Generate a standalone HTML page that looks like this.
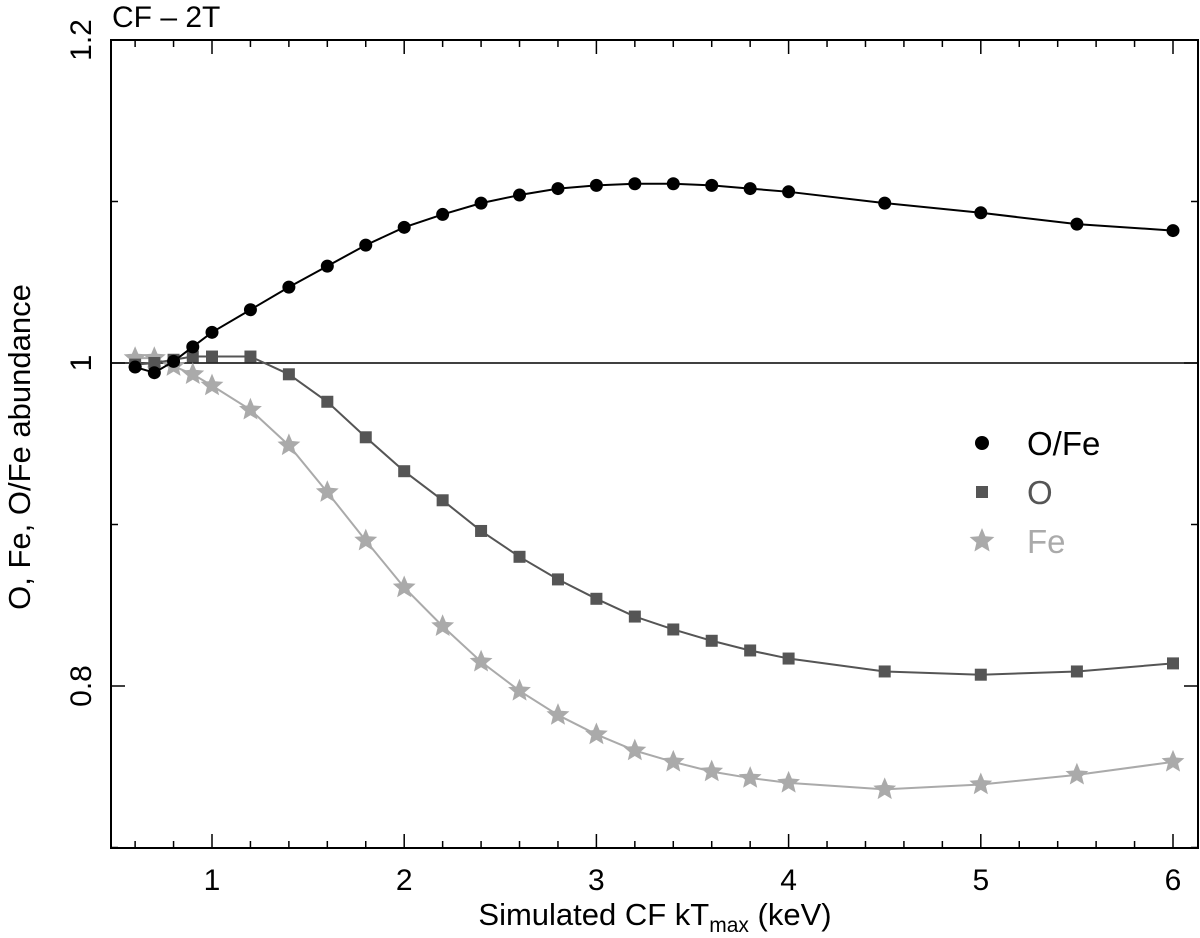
<!DOCTYPE html>
<html><head><meta charset="utf-8"><style>
body{margin:0;background:#fff;}
svg text{font-family:"Liberation Sans",sans-serif;}
</style></head><body>
<svg id="chart" width="1200" height="933" xmlns="http://www.w3.org/2000/svg"></svg>
<script>
const xVals=[0.6,0.7,0.8,0.9,1.0,1.2,1.4,1.6,1.8,2.0,2.2,2.4,2.6,2.8,3.0,3.2,3.4,3.6,3.8,4.0,4.5,5,5.5,6];
const ofeVals=[0.9975,0.994,1.001,1.01,1.019,1.033,1.047,1.06,1.073,1.084,1.092,1.099,1.104,1.108,1.11,1.111,1.111,1.11,1.108,1.106,1.099,1.093,1.086,1.082];
const oVals=[0.999,1.0,1.002,1.004,1.004,1.004,0.993,0.976,0.954,0.933,0.915,0.896,0.88,0.866,0.854,0.843,0.835,0.828,0.822,0.817,0.809,0.807,0.809,0.814];
const feVals=[1.003,1.003,0.998,0.993,0.986,0.971,0.949,0.92,0.89,0.861,0.837,0.815,0.797,0.782,0.77,0.76,0.753,0.747,0.743,0.74,0.736,0.739,0.745,0.753];
const xTickLabels=[1,2,3,4,5,6];
const yTickLabels=[0.8,1,1.2];

const svg=document.getElementById('chart');
const NS='http://www.w3.org/2000/svg';
const L=111,R=1198,T=40,B=848;
const X=v=>212+(v-1)*192.2;
const Y=v=>363-(v-1)*1615;
function mk(tag,attrs,parent){const e=document.createElementNS(NS,tag);for(const k in attrs)e.setAttribute(k,attrs[k]);(parent||svg).appendChild(e);return e;}

const frame=mk('rect',{x:L,y:T,width:R-L,height:B-T,fill:'none',stroke:'#000','stroke-width':2});


const ref=mk('line',{x1:L,x2:R,y1:Y(1),y2:Y(1),stroke:'#000','stroke-width':1.5});



for(let i=3;i<=30;i++){const v=i*0.2;const x=X(v);if(x<L||x>R)continue;const major=Math.abs(v-Math.round(v))<1e-6;const len=major?14:7;
const t1=mk('line',{x1:x,x2:x,y1:B,y2:B-len,stroke:'#000','stroke-width':1.5});


const t2=mk('line',{x1:x,x2:x,y1:T,y2:T+len,stroke:'#000','stroke-width':1.5});

}
xTickLabels.forEach(v=>{const t=mk('text',{x:X(v),y:890,'font-size':30,'text-anchor':'middle'});t.textContent=v;

});
for(let i=7;i<=12;i++){const v=i/10;const y=Y(v);const major=i%2===0;const len=major?14:7;
const a=mk('line',{x1:L,x2:L+len,y1:y,y2:y,stroke:'#000','stroke-width':1.5});


const b=mk('line',{x1:R,x2:R-len,y1:y,y2:y,stroke:'#000','stroke-width':1.5});

}
yTickLabels.forEach(v=>{const y=Y(v);const t=mk('text',{x:0,y:0,'font-size':30,'text-anchor':'middle',transform:`translate(91,${y}) rotate(-90)`});t.textContent=v;

});

const tt=mk('text',{x:112,y:27,'font-size':30});tt.textContent='CF – 2T';


const xt=mk('text',{x:655,y:925,'font-size':31,'text-anchor':'middle'});
xt.innerHTML='Simulated CF kT<tspan font-size="21" dy="7">max</tspan><tspan dy="-7"> (keV)</tspan>';


const yt=mk('text',{x:0,y:0,'font-size':31,'text-anchor':'middle',transform:'translate(30,447) rotate(-90)'});yt.textContent='O, Fe, O/Fe abundance';



function star(cx,cy,r,fill){let p=[];for(let i=0;i<10;i++){const a=-Math.PI/2+i*Math.PI/5;const rr=i%2?r*0.45:r;p.push((cx+rr*Math.cos(a)).toFixed(1)+','+(cy+rr*Math.sin(a)).toFixed(1));}
return mk('polygon',{points:p.join(' '),fill:fill});}
function series(vals,color,kind,name){
const pl=mk('polyline',{points:xVals.map((x,i)=>X(x)+','+Y(vals[i])).join(' '),fill:'none',stroke:color,'stroke-width':2});


xVals.forEach((x,i)=>{let m;const cx=X(x),cy=Y(vals[i]);
if(kind==='c')m=mk('circle',{cx:cx,cy:cy,r:6.5,fill:color});
else if(kind==='s')m=mk('rect',{x:cx-6,y:cy-6,width:12,height:12,fill:color});
else m=star(cx,cy,12,color);

});}
series(feVals,'#aaaaaa','*','fe');
series(oVals,'#555555','s','o');
series(ofeVals,'#000000','c','ofe');

const lg=[['O/Fe','#000','c',443],['O','#555555','s',492],['Fe','#aaaaaa','*',541]];
lg.forEach(([lab,c,k,y])=>{let m;
if(k==='c')m=mk('circle',{cx:982,cy:y,r:7,fill:c});else if(k==='s')m=mk('rect',{x:976,y:y-6,width:12,height:12,fill:c});else m=star(982,y,13,c);


const t=mk('text',{x:1027,y:y+12,'font-size':33,fill:c});t.textContent=lab;

});
</script>
</body></html>
